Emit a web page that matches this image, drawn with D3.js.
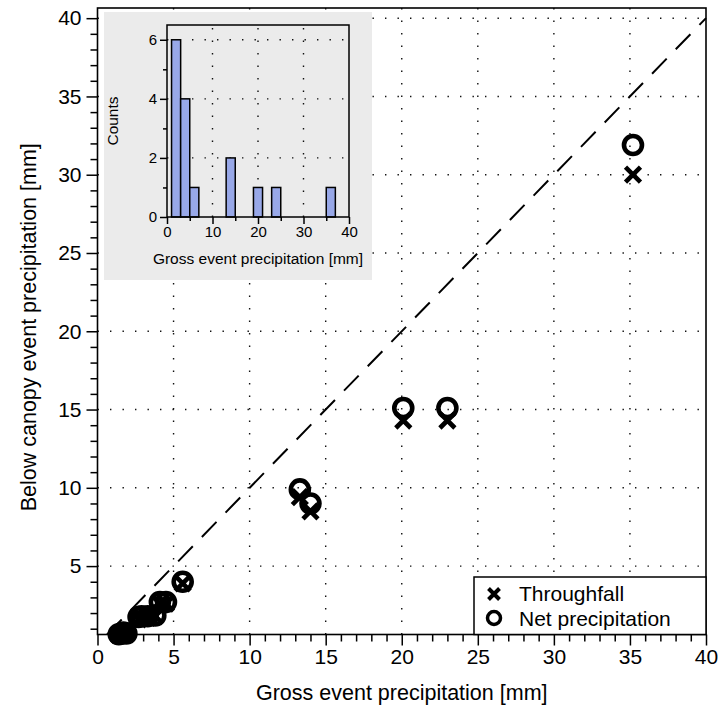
<!DOCTYPE html>
<head>
  <meta charset="utf-8">
  <style>
    body { margin: 0; background: #fff; }
    svg text { font-family: "Liberation Sans", Arial, sans-serif; fill: #000; }
    svg .grid { stroke: #111; stroke-width: 1.4px; stroke-dasharray: 1.4 11.1; }
    svg .domain { stroke: #000; }
    svg .tick line { stroke: #000; stroke-width: 1.5px; }
  </style>
</head>
<body>
<script src="https://d3js.org/d3.v7.min.js"></script>
<script>
  // event totals [mm]
  var gross       = [1.4, 1.6, 1.7, 1.9, 2.7, 2.9, 3.3, 3.8, 4.1, 4.5, 5.6, 13.3, 14.0, 20.1, 23.0, 35.2];
  var throughfall = [0.6, 0.6, 0.7, 0.65, 1.6, 1.7, 1.7, 1.8, 2.6, 2.6, 3.9, 9.4, 8.5, 14.3, 14.3, 30.0];
  var netPrecip   = [0.65, 0.7, 0.75, 0.7, 1.75, 1.8, 1.8, 1.85, 2.7, 2.7, 4.0, 9.9, 9.0, 15.1, 15.1, 31.9];

  var xTicks = [0, 5, 10, 15, 20, 25, 30, 35, 40];
  var yTicks = [5, 10, 15, 20, 25, 30, 35, 40];
  var xDomain = [0, 40];
  var yDomain = [0.63, 40.65];

  // inset histogram
  var binEdges = [1, 3, 5, 7, 9, 11, 13, 15, 17, 19, 21, 23, 25, 27, 29, 31, 33, 35, 37, 39];
  var insetXTicks = [0, 10, 20, 30, 40];
  var insetYTicks = [0, 2, 4, 6];
  var insetYDomain = [0, 6.5];

  var legendLabels = ["Throughfall", "Net precipitation"];

  var svg = d3.select("body").append("svg")
      .attr("width", 719)
      .attr("height", 710);

  var x = d3.scaleLinear().domain(xDomain).range([97.5, 706]);
  var y = d3.scaleLinear().domain(yDomain).range([634.5, 8]);

  // dotted grid
  svg.append("g").selectAll("line")
    .data(xTicks.filter(function (d) { return d > 0 && d < 40; }))
    .join("line")
      .classed("grid", true)
      .attr("x1", function (d) { return x(d); })
      .attr("x2", function (d) { return x(d); })
      .attr("y1", y.range()[0])
      .attr("y2", y.range()[1]);

  svg.append("g").selectAll("line")
    .data(yTicks)
    .join("line")
      .classed("grid", true)
      .attr("x1", x.range()[0])
      .attr("x2", x.range()[1])
      .attr("y1", function (d) { return y(d); })
      .attr("y2", function (d) { return y(d); });

  // 1:1 line
  svg.append("line")
      .attr("x1", x(yDomain[0])).attr("y1", y(yDomain[0]))
      .attr("x2", x(40)).attr("y2", y(40))
      .style("stroke", "#000")
      .style("stroke-width", "2px")
      .style("stroke-dasharray", "21 13");

  // axes: minor ticks every 1, major every 5
  svg.append("g")
      .attr("transform", "translate(0," + y.range()[0] + ")")
      .call(d3.axisBottom(x).tickValues(d3.range(1, 40).filter(function (d) { return d % 5; }))
        .tickSize(7).tickFormat("").tickSizeOuter(0))
      .select(".domain").remove();

  svg.append("g")
      .attr("transform", "translate(0," + y.range()[0] + ")")
      .call(d3.axisBottom(x).tickValues(xTicks).tickSize(11).tickPadding(4).tickSizeOuter(0))
      .call(function (g) { g.select(".domain").remove(); })
      .selectAll("text").style("font-size", "21px");

  svg.append("g")
      .attr("transform", "translate(" + x.range()[0] + ",0)")
      .call(d3.axisLeft(y).tickValues(d3.range(1, 41).filter(function (d) { return d % 5; }))
        .tickSize(7).tickFormat("").tickSizeOuter(0))
      .select(".domain").remove();

  svg.append("g")
      .attr("transform", "translate(" + x.range()[0] + ",0)")
      .call(d3.axisLeft(y).tickValues(yTicks).tickSize(11).tickPadding(5).tickSizeOuter(0))
      .call(function (g) { g.select(".domain").remove(); })
      .selectAll("text").style("font-size", "21px");

  // frame
  svg.append("rect")
      .attr("x", x.range()[0]).attr("y", y.range()[1])
      .attr("width", x.range()[1] - x.range()[0])
      .attr("height", y.range()[0] - y.range()[1])
      .style("fill", "none").style("stroke", "#000").style("stroke-width", "1.6px");

  // axis titles
  svg.append("text")
      .attr("x", (x.range()[0] + x.range()[1]) / 2)
      .attr("y", 700)
      .style("text-anchor", "middle").style("font-size", "21.5px")
      .text("Gross event precipitation [mm]");

  svg.append("text")
      .attr("transform", "translate(36," + ((y.range()[0] + y.range()[1]) / 2 + 6) + ") rotate(-90)")
      .style("text-anchor", "middle").style("font-size", "21.5px")
      .text("Below canopy event precipitation [mm]");

  // markers
  function cross(s) {
    return "M" + (-s) + "," + (-s) + "L" + s + "," + s + "M" + (-s) + "," + s + "L" + s + "," + (-s);
  }

  var events = gross.map(function (g, i) { return { g: g, tf: throughfall[i], np: netPrecip[i] }; });

  svg.append("g").selectAll("path")
    .data(events)
    .join("path")
      .attr("transform", function (d) { return "translate(" + x(d.g) + "," + y(d.tf) + ")"; })
      .attr("d", cross(7.5))
      .style("stroke", "#000").style("stroke-width", "4.6px").style("fill", "none");

  svg.append("g").selectAll("circle")
    .data(events)
    .join("circle")
      .attr("cx", function (d) { return x(d.g); })
      .attr("cy", function (d) { return y(d.np); })
      .attr("r", 9)
      .style("stroke", "#000").style("stroke-width", "4.6px").style("fill", "none");

  // legend
  var legend = svg.append("g");
  legend.append("rect")
      .attr("x", 474).attr("y", 577)
      .attr("width", x.range()[1] - 474).attr("height", y.range()[0] - 577)
      .style("fill", "#fff").style("stroke", "#000").style("stroke-width", "1.5px");
  legend.append("path")
      .attr("transform", "translate(494,594)")
      .attr("d", cross(5.5))
      .style("stroke", "#000").style("stroke-width", "4px");
  legend.append("circle")
      .attr("cx", 494).attr("cy", 618).attr("r", 6.5)
      .style("stroke", "#000").style("stroke-width", "3.5px").style("fill", "none");
  legend.selectAll("text")
    .data(legendLabels)
    .join("text")
      .attr("x", 519)
      .attr("y", function (d, i) { return 601 + i * 25; })
      .style("font-size", "21px")
      .text(function (d) { return d; });

  // ---- inset histogram ----
  var inset = svg.append("g");
  inset.append("rect")
      .attr("x", 104).attr("y", 12).attr("width", 268).attr("height", 268)
      .style("fill", "#ebebeb");

  var ix = d3.scaleLinear().domain(xDomain).range([167, 349]);
  var iy = d3.scaleLinear().domain(insetYDomain).range([217, 25]);

  inset.append("g").selectAll("line")
    .data(insetXTicks.filter(function (d) { return d > 0 && d < 40; }))
    .join("line")
      .classed("grid", true)
      .attr("x1", function (d) { return ix(d); }).attr("x2", function (d) { return ix(d); })
      .attr("y1", iy.range()[0]).attr("y2", iy.range()[1]);
  inset.append("g").selectAll("line")
    .data(insetYTicks.filter(function (d) { return d > 0; }))
    .join("line")
      .classed("grid", true)
      .attr("x1", ix.range()[0]).attr("x2", ix.range()[1])
      .attr("y1", function (d) { return iy(d); }).attr("y2", function (d) { return iy(d); });

  var bins = d3.bin()
      .domain([binEdges[0], binEdges[binEdges.length - 1]])
      .thresholds(binEdges)(gross)
      .filter(function (b) { return b.length > 0; });

  inset.append("g").selectAll("rect")
    .data(bins)
    .join("rect")
      .attr("x", function (d) { return ix(d.x0); })
      .attr("y", function (d) { return iy(d.length); })
      .attr("width", function (d) { return ix(d.x1) - ix(d.x0); })
      .attr("height", function (d) { return iy(0) - iy(d.length); })
      .style("fill", "#98a8e8").style("stroke", "#000").style("stroke-width", "1.5px");

  inset.append("g")
      .attr("transform", "translate(0," + iy.range()[0] + ")")
      .call(d3.axisBottom(ix).tickValues([5, 15, 25, 35]).tickSize(4).tickFormat("").tickSizeOuter(0))
      .select(".domain").remove();
  inset.append("g")
      .attr("transform", "translate(0," + iy.range()[0] + ")")
      .call(d3.axisBottom(ix).tickValues(insetXTicks).tickSize(7).tickPadding(2).tickSizeOuter(0))
      .call(function (g) { g.select(".domain").remove(); })
      .selectAll("text").style("font-size", "15px");
  inset.append("g")
      .attr("transform", "translate(" + ix.range()[0] + ",0)")
      .call(d3.axisLeft(iy).tickValues([1, 3, 5]).tickSize(4).tickFormat("").tickSizeOuter(0))
      .select(".domain").remove();
  inset.append("g")
      .attr("transform", "translate(" + ix.range()[0] + ",0)")
      .call(d3.axisLeft(iy).tickValues(insetYTicks).tickFormat(d3.format("d"))
        .tickSize(7).tickPadding(3).tickSizeOuter(0))
      .call(function (g) { g.select(".domain").remove(); })
      .selectAll("text").style("font-size", "15px");

  inset.append("rect")
      .attr("x", ix.range()[0]).attr("y", iy.range()[1])
      .attr("width", ix.range()[1] - ix.range()[0])
      .attr("height", iy.range()[0] - iy.range()[1])
      .style("fill", "none").style("stroke", "#000").style("stroke-width", "1.5px");

  inset.append("text")
      .attr("x", (ix.range()[0] + ix.range()[1]) / 2)
      .attr("y", 264)
      .style("text-anchor", "middle").style("font-size", "15.5px")
      .text("Gross event precipitation [mm]");
  inset.append("text")
      .attr("transform", "translate(118," + (iy.range()[0] + iy.range()[1]) / 2 + ") rotate(-90)")
      .style("text-anchor", "middle").style("font-size", "15.5px")
      .text("Counts");
</script>
</body>
</html>
